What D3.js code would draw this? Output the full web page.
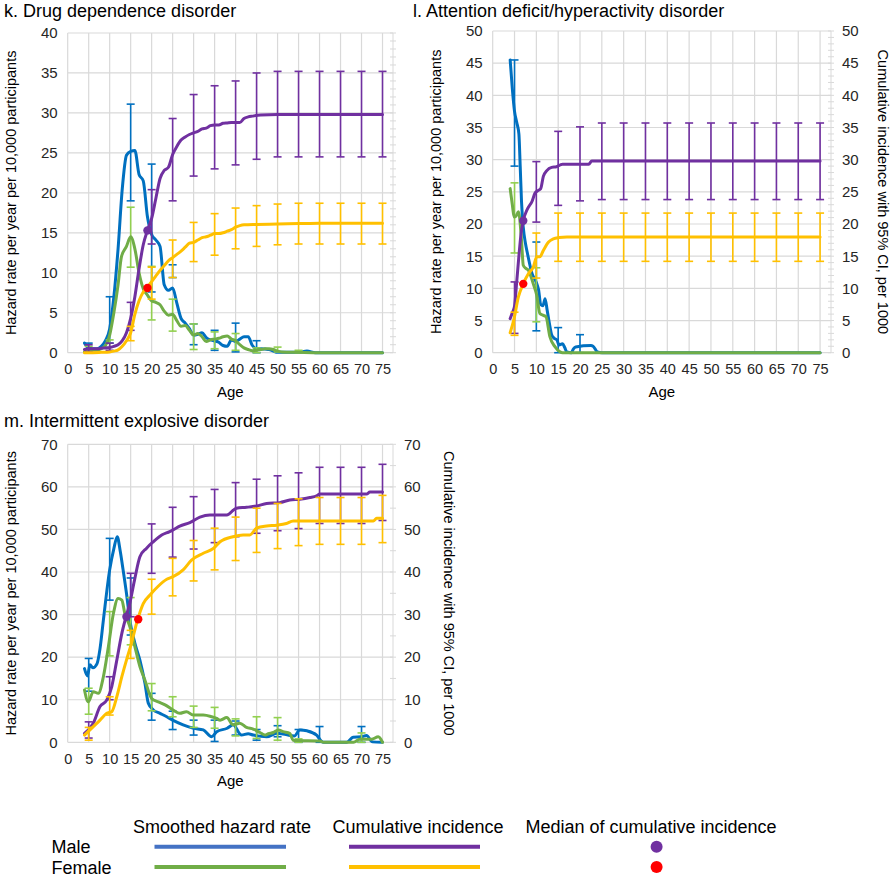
<!DOCTYPE html>
<html><head><meta charset="utf-8">
<script src="https://cdn.jsdelivr.net/npm/d3@7/dist/d3.min.js"></script>
<style>body{margin:0;background:#fff}svg{display:block;font-family:"Liberation Sans",Arial,sans-serif}</style>
</head><body><svg id="c" width="893" height="876"></svg>
<script>
// ---------- shared ----------
const ageTicks = [0,5,10,15,20,25,30,35,40,45,50,55,60,65,70,75];
const seriesNames = ["Male","Female"];
const legendHeaders = ["Smoothed hazard rate","Cumulative incidence","Median of cumulative incidence"];
const ciAgesAll = [5,10,15,20,25,30,35,40,45,50,55,60,65,70,75];

// ---------- k. Drug dependence disorder ----------
const kMaleHaz = [[4,1.2],[5,0.6],[6,0.5],[7,0.5],[8,0.8],[9,1.5],[10,3.0],[11,7],[12,13],[13,20.5],[14,24.7],[15,25.2],[16,25.3],[17,22.3],[18,21.5],[19,17],[20,14.8],[21,14.1],[22,13.3],[23,8.5],[24,7.8],[25,8.1],[26,6.2],[27,4.3],[28,3.7],[29,3.0],[30,2.2],[31,2.3],[32,2.5],[33,1.9],[34,1.6],[35,1.5],[36,1.3],[37,0.9],[38,0.8],[39,1.6],[40,1.4],[41,1.7],[42,2.0],[43,2.0],[44,0.9],[45,0.5],[46,0.5],[47,0.45],[48,0.4],[49,0.2],[50,0.05],[55,0.05],[57,0.2],[59,0],[75,0]];
const kFemaleHaz = [[4,0.1],[5,0.3],[6,0.3],[7,0.3],[8,0.5],[9,0.9],[10,2.2],[11,5],[12,8.5],[12.8,12],[14,13.3],[15,14.5],[16,13],[17,10],[18,8],[19,7.2],[20,6.5],[21,6.3],[22,6],[23,5.2],[24,4.7],[25,4.8],[26,4.0],[27,3.3],[28,3.4],[29,2.8],[30,2.2],[31,2.4],[32,2.0],[33,1.4],[34,1.6],[35,1.7],[36,1.8],[37,2.0],[38,2.1],[39,1.7],[40,1.5],[41,1.0],[42,0.6],[43,0.4],[44,0.25],[45,0.3],[46,0.4],[47,0.5],[48,0.5],[49,0.4],[50,0.2],[51,0.1],[55,0.05],[60,0],[75,0]];
const kMaleCum = [[4,0.4],[5,0.5],[6,0.5],[7,0.5],[8,0.55],[9,0.6],[10,0.65],[11,0.8],[12,1.0],[13,1.5],[14,2.5],[15,4.3],[16,7.0],[17,10.5],[18,13.5],[19,15.3],[20,16.8],[21,19.3],[22,21.8],[23,22.8],[24,23.2],[25,24.8],[26,25.8],[27,26.6],[28,27.0],[29,27.3],[30,27.5],[31,27.7],[32,28.0],[33,28.1],[34,28.4],[35,28.5],[36,28.5],[37,28.7],[38,28.75],[39,28.8],[41,28.8],[42,29.3],[43,29.5],[44,29.6],[46,29.75],[50,29.8],[75,29.8]];
const kFemaleCum = [[4,0],[5,0],[8,0.05],[10,0.1],[11,0.2],[12,0.35],[13,0.8],[14,1.5],[15,2.5],[16,4.8],[17,6.5],[18,7.6],[19,8.2],[20,8.9],[21,9.6],[22,10.3],[23,10.9],[24,11.5],[25,11.9],[26,12.3],[27,12.7],[28,13.2],[29,13.7],[30,13.8],[31,14.1],[32,14.4],[33,14.5],[34,14.7],[35,14.9],[36,14.9],[37,15.0],[38,15.2],[39,15.4],[40,15.7],[41,15.9],[42,16.0],[45,16.05],[50,16.1],[55,16.15],[60,16.2],[75,16.2]];
const kMaleHazCI = {ages:[5,10,15,20,25,30,35,40,45], lo:[0.3,1.2,19.0,7.6,9.4,1.0,0.3,0.1,0], hi:[1.2,7.0,31.1,23.6,11.0,3.6,2.8,3.7,1.5]};
const kFemaleHazCI = {ages:[5,10,15,20,25,30,35,40,45,50,55], lo:[0,0.2,10.7,4.1,2.7,0.4,0.5,0.3,0,0.1,0], hi:[0.8,1.6,18.2,10.8,6.7,3.6,2.6,2.4,0.6,0.7,0.3]};
const kMaleCumCI = {ages:ciAgesAll, lo:[0.1,0.3,2.8,13.6,19.0,22.1,23.0,23.5,24.2,24.5,24.5,24.5,24.5,24.5,24.5], hi:[1.0,1.2,6.3,20.4,29.3,32.3,33.4,34.0,35.0,35.2,35.2,35.2,35.2,35.2,35.2]};
const kFemaleCumCI = {ages:[15,20,25,30,35,40,45,50,55,60,65,70,75], lo:[1.5,6.7,9.4,11.4,12.2,13.0,13.3,13.5,13.6,13.6,13.6,13.6,13.6], hi:[3.3,10.7,14.1,16.3,17.4,18.1,18.4,18.6,18.7,18.7,18.7,18.7,18.7]};
const kMedians = [[19,15.3],[19,8.1]];

// ---------- l. ADHD ----------
const lMaleHaz = [[4,45.5],[4.5,41],[5,37.5],[5.5,35.8],[6,34],[6.3,29],[6.6,23.5],[7,19.5],[7.5,17],[8,15.3],[9,12.3],[10,10.9],[10.5,9.8],[11,7.5],[11.5,7.3],[12,8.4],[12.5,6.5],[13,4.5],[13.5,2.8],[14,2.3],[14.7,2.0],[15.2,1.2],[16,1.4],[16.5,0.8],[17,0.1],[18,0],[18.5,0.6],[19,0.9],[22.5,1.1],[23,1.0],[24,0.1],[25,0],[75,0]];
const lFemaleHaz = [[4,25.5],[4.5,23],[4.9,21.1],[5.3,21.2],[5.9,21.9],[6.6,17.5],[7,13.6],[7.6,13.1],[8.2,12.8],[9.3,10.7],[10.1,8.9],[10.8,6.1],[11.6,5.8],[12.2,5.6],[13.1,2.5],[14.3,0.9],[15.4,0.15],[16,0],[75,0]];
const lMaleCum = [[4,5.3],[4.5,6.2],[5,7.2],[5.5,11],[6,15],[6.5,18.5],[7,20.5],[8,22.4],[9,23.5],[9.7,24.8],[10.4,25.2],[11,25.5],[11.6,27.4],[12.4,28.3],[13.5,28.8],[14.6,28.9],[15.5,29.2],[16,29.3],[22,29.3],[22.7,29.8],[75,29.8]];
const lFemaleCum = [[4,3.1],[4.9,5.3],[5.9,8.7],[7,10.7],[8.2,12.3],[9.3,13.3],[10.1,14.9],[10.8,14.9],[11.6,15.9],[12.8,17.2],[13.9,17.7],[15.2,17.9],[17,18.0],[75,18.0]];
const lMaleHazCI = {ages:[5,10,15,20], lo:[29,3.4,0,0], hi:[45.5,17.2,3.9,2.8]};
const lFemaleHazCI = {ages:[5,10], lo:[15.5,4.8], hi:[26.4,13.2]};
const lMaleCumCI = {ages:ciAgesAll, lo:[3.0,20.3,22.9,23.6,23.8,23.8,23.8,23.8,23.8,23.8,23.8,23.8,23.8,23.8,23.8], hi:[11.0,29.7,34.4,35.1,35.7,35.7,35.7,35.7,35.7,35.7,35.7,35.7,35.7,35.7,35.7]};
const lFemaleCumCI = {ages:ciAgesAll, lo:[2.7,11.6,14.2,14.2,14.2,14.2,14.2,14.2,14.2,14.2,14.2,14.2,14.2,14.2,14.2], hi:[6.3,18.6,21.7,21.7,21.7,21.7,21.7,21.7,21.7,21.7,21.7,21.7,21.7,21.7,21.7]};
const lMedians = [[7,20.5],[7,10.7]];

// ---------- m. Intermittent explosive disorder ----------
const mMaleHaz = [[4,17.3],[4.7,15.6],[5.3,18.2],[6,17.5],[7,18.5],[7.7,22],[8.5,28.7],[10,40.5],[11,45.5],[11.8,48.3],[12.5,45],[13.2,40.5],[14,35],[14.8,28.7],[16,23.3],[17.2,19.3],[18.4,13.9],[19.2,9.2],[20.4,7.6],[22,6.8],[23.6,6],[25,5.2],[27.5,4.1],[30,3.3],[32.3,2.9],[34.3,1.3],[35.5,2.5],[38,3.3],[39.4,4.1],[41.4,1.7],[43,2.0],[44.2,1.7],[46,1.4],[47.4,1.3],[49.8,2.1],[52,1.8],[54,1.5],[55.3,2.9],[57,2.7],[59.3,1.7],[60.5,0.2],[61,0],[66.5,0],[68,1.2],[70,1.3],[71.2,1.6],[72.6,0.1],[75,0]];
const mFemaleHaz = [[4,12.3],[4.9,9.5],[6.1,11.9],[7.3,11.5],[8.5,15.4],[9.7,22.5],[10.9,30.3],[12,33.8],[12.9,33.4],[13.6,30.3],[14.8,27.2],[16,22.5],[17.2,17.8],[18.4,14.6],[20,10.3],[21.6,9.5],[23.2,8.8],[25.1,7.6],[26.7,6.8],[28.3,7.2],[29.9,6.4],[32.3,6.4],[34.3,6.0],[35.5,5.6],[36.3,5.2],[37.9,5.8],[39.4,4.1],[41,4.5],[42.6,3.5],[44.2,3.1],[45.8,2.3],[47,1.7],[47.8,2.0],[49,2.3],[50.2,2.9],[51.3,2.5],[52.9,2.1],[53.7,0.5],[54.5,0.4],[60,0.3],[61,0],[68.1,0],[69.6,0.7],[72.4,0.7],[74,1.3],[75,0]];
const mMaleCum = [[4,2.1],[6.1,4.5],[7.7,8.4],[9.3,9.9],[10.5,13.1],[11.7,19.3],[12.9,25.6],[13.9,29.5],[14.8,32.7],[16,38.5],[17.2,43.6],[18.8,45.6],[20.4,47.1],[22.4,48.7],[24.3,49.5],[25.1,49.9],[26.7,50.8],[29.1,51.6],[31.5,52.9],[33.9,53.4],[37.9,53.4],[40.2,55.0],[42.6,55.2],[45,55.5],[47.4,56.1],[50.5,56.3],[52.9,56.9],[55.3,57.1],[57.7,57.5],[59.3,57.9],[60.1,58.3],[71.2,58.3],[72,58.8],[75,58.8]];
const mFemaleCum = [[4,1.7],[6.1,3.7],[7.7,5.2],[9.3,6.8],[10.5,7.2],[11.7,10.7],[12.9,15.4],[14,19.3],[15.2,23.3],[16.4,27.9],[18,32.6],[19.6,34.6],[21.5,36.6],[23.6,38.3],[25.1,38.9],[27.5,40.5],[29.5,42.8],[32.3,44.4],[34.8,45.6],[36.3,47.1],[39.4,48.3],[41.8,48.7],[43.4,48.7],[45,50.3],[47.4,50.8],[49.8,51.0],[52.1,51.4],[53.7,52.0],[72.8,52.0],[73.6,52.6],[75,52.6]];
const mMaleHazCI = {ages:[5,10,15,20,25,30,35,40,45,50,55,60,70], lo:[12,33.4,25.2,5.2,3.0,1.7,0.2,1.7,0.5,1.3,0,0,0], hi:[19.7,47.9,38.6,11.5,7.3,5.2,5.2,5.0,3.0,3.9,3.0,3.7,3.7]};
const mFemaleHazCI = {ages:[5,10,15,20,25,30,35,40,45,50,55,70], lo:[6.6,20.3,22.9,7.4,6.0,3.5,3.3,1.5,0.9,0.5,0,0], hi:[12.7,30.7,34.0,13.8,10.7,8.5,8.2,5.5,6.0,5.8,0.8,2.2]};
const mMaleCumCI = {ages:ciAgesAll, lo:[1.0,10.0,29.5,39.7,43.5,45.4,46.9,48.3,49.1,49.7,50.2,51.4,51.4,51.4,52.1], hi:[4.8,15.4,39.7,51.3,55.2,57.7,59.4,61.0,61.8,62.6,63.3,64.6,64.6,64.6,65.3]};
const mFemaleCumCI = {ages:ciAgesAll, lo:[0.5,6.4,19.7,30.1,34.4,37.9,40.5,42.7,44.6,45.5,46.2,46.5,46.5,46.5,46.9], hi:[3.5,10.7,26.3,38.3,43.2,47.4,50.3,52.9,55.0,56.1,57.2,57.5,57.5,57.5,58.0]};
const mMedians = [[14,29.5],[16.8,28.9]];

// ---------- styling ----------
const C = {maleHaz:"#0070C0", femaleHaz:"#70AD47", femaleHazErr:"#92D050", maleCum:"#7030A0", femaleCum:"#FFC000", red:"#FF0000", grid:"#D9D9D9", text:"#262626"};
const FONT = "Liberation Sans, Arial, sans-serif";
const svg = d3.select("#c");

const panels = [
  {title:"k. Drug dependence disorder", tx:4, ty:17, l:67.7, r:393, t:33, b:352.7, yMax:40, yStep:5, minor:1, right:false, rOff:52,
   mh:kMaleHaz, fh:kFemaleHaz, mc:kMaleCum, fc:kFemaleCum, mhCI:kMaleHazCI, fhCI:kFemaleHazCI, mcCI:kMaleCumCI, fcCI:kFemaleCumCI, med:kMedians},
  {title:"l. Attention deficit/hyperactivity disorder", tx:413, ty:17, l:492.7, r:831, t:31, b:352.7, yMax:50, yStep:5, minor:1, right:true, rOff:52,
   mh:lMaleHaz, fh:lFemaleHaz, mc:lMaleCum, fc:lFemaleCum, mhCI:lMaleHazCI, fhCI:lFemaleHazCI, mcCI:lMaleCumCI, fcCI:lFemaleCumCI, med:lMedians},
  {title:"m. Intermittent explosive disorder", tx:4, ty:427, l:67.7, r:393, t:444.3, b:742.3, yMax:70, yStep:10, minor:5, right:true, rOff:56,
   mh:mMaleHaz, fh:mFemaleHaz, mc:mMaleCum, fc:mFemaleCum, mhCI:mMaleHazCI, fhCI:mFemaleHazCI, mcCI:mMaleCumCI, fcCI:mFemaleCumCI, med:mMedians}
];

function drawPanel(p) {
  const g = svg.append("g");
  const x = d3.scaleLinear().domain([0, 77.5]).range([p.l, p.r]);
  const y = d3.scaleLinear().domain([0, p.yMax]).range([p.b, p.t]);
  const yTicks = d3.range(0, p.yMax + 0.001, p.yStep);

  g.append("text").attr("x", p.tx).attr("y", p.ty).attr("font-size", 18).attr("fill", "#000").text(p.title);

  // grid
  g.append("g").selectAll("line").data(ageTicks).join("line")
    .attr("x1", d => x(d)).attr("x2", d => x(d)).attr("y1", p.t).attr("y2", p.b)
    .attr("stroke", C.grid).attr("stroke-width", 1.2);
  g.append("g").selectAll("line").data(yTicks).join("line")
    .attr("x1", p.l).attr("x2", p.r).attr("y1", d => y(d)).attr("y2", d => y(d))
    .attr("stroke", C.grid).attr("stroke-width", 1.2);
  // right axis line and minor ticks
  g.append("line").attr("x1", p.r).attr("x2", p.r).attr("y1", p.t).attr("y2", p.b).attr("stroke", C.grid).attr("stroke-width", 1);
  g.append("g").selectAll("line").data(d3.range(0, p.yMax + 0.001, p.minor)).join("line")
    .attr("x1", p.r - 3).attr("x2", p.r + 3).attr("y1", d => y(d)).attr("y2", d => y(d))
    .attr("stroke", C.grid).attr("stroke-width", 1);

  // axes
  const ax = g.append("g").attr("transform", `translate(0,${p.b})`)
    .call(d3.axisBottom(x).tickValues(ageTicks).tickSize(0).tickPadding(11).tickFormat(d3.format("d")));
  ax.select(".domain").remove();
  ax.selectAll("text").attr("font-size", 14.5).attr("fill", C.text).attr("font-family", FONT);
  const ay = g.append("g").attr("transform", `translate(${p.l},0)`)
    .call(d3.axisLeft(y).tickValues(yTicks).tickSize(0).tickPadding(10).tickFormat(d3.format("d")));
  ay.select(".domain").remove();
  ay.selectAll("text").attr("font-size", 15).attr("fill", C.text).attr("font-family", FONT);
  if (p.right) {
    const ar = g.append("g").attr("transform", `translate(${p.r},0)`)
      .call(d3.axisRight(y).tickValues(yTicks).tickSize(0).tickPadding(11).tickFormat(d3.format("d")));
    ar.select(".domain").remove();
    ar.selectAll("text").attr("font-size", 15).attr("fill", C.text).attr("font-family", FONT);
    g.append("text").attr("transform", `translate(${p.r + p.rOff},${(p.t + p.b) / 2}) rotate(90)`)
      .attr("text-anchor", "middle").attr("dy", "0.35em").attr("font-size", 14.5).attr("fill", "#000")
      .text("Cumulative incidence with 95% CI, per 1000");
  }
  g.append("text").attr("transform", `translate(${p.l - 57},${(p.t + p.b) / 2}) rotate(-90)`)
    .attr("text-anchor", "middle").attr("dy", "0.35em").attr("font-size", 14.5).attr("fill", "#000")
    .text("Hazard rate per year per 10,000 participants");
  g.append("text").attr("x", (p.l + p.r) / 2).attr("y", p.b + 44).attr("text-anchor", "middle")
    .attr("font-size", 15).attr("fill", "#000").text("Age");

  const line = d3.line().x(d => x(d[0])).y(d => y(d[1])).curve(d3.curveMonotoneX);
  function errBars(ci, color) {
    const rows = ci.ages.map((a, i) => ({a, lo: ci.lo[i], hi: ci.hi[i]}));
    const eg = g.append("g").attr("stroke", color).attr("stroke-width", 1.6);
    eg.selectAll(".v").data(rows).join("line")
      .attr("x1", d => x(d.a)).attr("x2", d => x(d.a)).attr("y1", d => y(d.lo)).attr("y2", d => y(d.hi));
    eg.selectAll(".c1").data(rows).join("line")
      .attr("x1", d => x(d.a) - 4).attr("x2", d => x(d.a) + 4).attr("y1", d => y(d.hi)).attr("y2", d => y(d.hi));
    eg.selectAll(".c2").data(rows).join("line")
      .attr("x1", d => x(d.a) - 4).attr("x2", d => x(d.a) + 4).attr("y1", d => y(d.lo)).attr("y2", d => y(d.lo));
  }
  function path(data, color) {
    g.append("path").datum(data).attr("d", line).attr("fill", "none").attr("stroke", color)
      .attr("stroke-width", 3).attr("stroke-linejoin", "round").attr("stroke-linecap", "round");
  }
  errBars(p.mhCI, C.maleHaz); path(p.mh, C.maleHaz);
  errBars(p.fhCI, C.femaleHazErr); path(p.fh, C.femaleHaz);
  errBars(p.mcCI, C.maleCum); path(p.mc, C.maleCum);
  errBars(p.fcCI, C.femaleCum); path(p.fc, C.femaleCum);
  const medColors = [C.maleCum, C.red];
  g.append("g").selectAll("circle").data(p.med).join("circle")
    .attr("cx", d => x(d[0])).attr("cy", d => y(d[1])).attr("r", 4.2)
    .attr("fill", (d, i) => medColors[i]);
}
panels.forEach(drawPanel);

// ---------- legend ----------
const lg = svg.append("g").attr("font-size", 18).attr("fill", "#000");
const headerX = [222, 418, 651];
lg.selectAll(".h").data(legendHeaders).join("text")
  .attr("x", (d, i) => headerX[i]).attr("y", 832.5).attr("text-anchor", "middle").text(d => d);
const rowY = [846.7, 867];
lg.selectAll(".n").data(seriesNames).join("text")
  .attr("x", 51.5).attr("y", (d, i) => rowY[i] + 6.5).text(d => d);
const hazLegendColors = ["#4472C4", C.femaleHaz];
const cumLegendColors = [C.maleCum, C.femaleCum];
lg.selectAll(".hl").data(seriesNames).join("line")
  .attr("x1", 154.5).attr("x2", 286).attr("y1", (d, i) => rowY[i]).attr("y2", (d, i) => rowY[i])
  .attr("stroke", (d, i) => hazLegendColors[i]).attr("stroke-width", 4);
lg.selectAll(".cl").data(seriesNames).join("line")
  .attr("x1", 349).attr("x2", 480).attr("y1", (d, i) => rowY[i]).attr("y2", (d, i) => rowY[i])
  .attr("stroke", (d, i) => cumLegendColors[i]).attr("stroke-width", 4);
lg.selectAll(".dot").data(seriesNames).join("circle")
  .attr("cx", 656.6).attr("cy", (d, i) => rowY[i]).attr("r", 6)
  .attr("fill", (d, i) => [C.maleCum, C.red][i]);
</script></body></html>
